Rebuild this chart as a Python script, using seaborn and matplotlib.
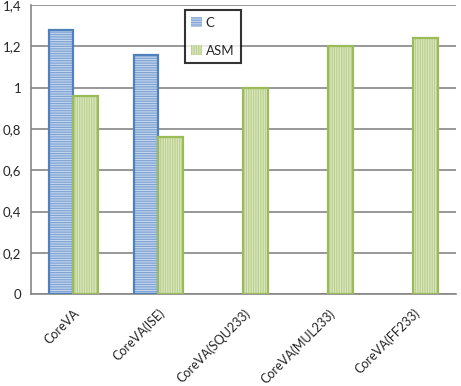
import matplotlib
matplotlib.use("Agg")
import matplotlib.pyplot as plt
from matplotlib.patches import Rectangle, Patch
import seaborn as sns
import pandas as pd
import numpy as np

categories = ["CoreVA", "CoreVA(ISE)", "CoreVA(SQU233)", "CoreVA(MUL233)", "CoreVA(FF233)"]
c_values = [1.28, 1.16, np.nan, np.nan, np.nan]
asm_values = [0.96, 0.76, 1.00, 1.20, 1.24]
series = ["C", "ASM"]
y_ticks = [0, 0.2, 0.4, 0.6, 0.8, 1.0, 1.2, 1.4]
y_tick_labels = ["0", "0,2", "0,4", "0,6", "0,8", "1", "1,2", "1,4"]

df = pd.DataFrame({
    "cat": categories * 2,
    "series": ["C"] * len(categories) + ["ASM"] * len(categories),
    "value": c_values + asm_values,
})

sns.set_style("white")
plt.rcParams["font.family"] = ["Lato", "DejaVu Sans"]
plt.rcParams["hatch.linewidth"] = 0.9

fill = {"C": "#c5d7ee", "ASM": "#dde8c6"}
stripe = {"C": "#7fa3d3", "ASM": "#b9d08a"}
edge = {"C": "#4f81bd", "ASM": "#9bbb59"}
hatch = {"C": "-------", "ASM": "|||||||"}

fig = plt.figure(figsize=(4.61, 3.86), dpi=100)
ax = fig.add_axes([0.067, 0.238, 0.922, 0.749])

sns.barplot(data=df, x="cat", y="value", hue="series", hue_order=series,
            order=categories, palette=fill, width=0.58, ax=ax, legend=False,
            zorder=3)

for i, s in enumerate(series):
    cont = ax.containers[i]
    for p in cont.patches:
        if np.isnan(p.get_height()) or p.get_height() == 0:
            continue
        p.set_facecolor(fill[s])
        p.set_edgecolor(stripe[s])
        p.set_linewidth(0)
        p.set_hatch(hatch[s])
        ax.add_patch(Rectangle(p.get_xy(), p.get_width(), p.get_height(),
                               fill=False, edgecolor=edge[s], linewidth=1.6,
                               zorder=4))

ax.set_ylim(0, 1.4)
ax.set_xlim(-0.5, len(categories) - 0.5)
ax.set_yticks(y_ticks)
ax.set_yticklabels(y_tick_labels, fontsize=9.5)
ax.set_xticks(range(len(categories)))
ax.set_xticklabels(categories, rotation=45, ha="right", rotation_mode="anchor",
                   fontsize=9)
ax.set_xticks(np.arange(-0.5, len(categories), 1.0), minor=True)
ax.tick_params(axis="x", which="major", length=0, pad=9)
ax.tick_params(axis="x", which="minor", length=5, width=1.2, color="#868686",
               direction="out")
ax.tick_params(axis="y", which="major", length=3, width=1.2, color="#868686",
               direction="out", pad=4)
ax.set_xlabel("")
ax.set_ylabel("")
ax.yaxis.grid(True, color="#868686", linewidth=1.2, zorder=0)
ax.set_axisbelow(True)
for side in ["top", "right"]:
    ax.spines[side].set_visible(False)
for side in ["left", "bottom"]:
    ax.spines[side].set_color("#868686")
    ax.spines[side].set_linewidth(1.2)

handles = [Patch(facecolor=fill[s], edgecolor=stripe[s], hatch=hatch[s],
                 linewidth=0) for s in series]
leg = ax.legend(handles, series, loc="upper left", bbox_to_anchor=(0.362, 0.982),
                fontsize=9.5, frameon=True, fancybox=False, edgecolor="black",
                handlelength=0.8, handleheight=0.8, handletextpad=0.3,
                labelspacing=1.2, borderpad=0.5, borderaxespad=0)
leg.get_frame().set_linewidth(1.5)
leg.set_zorder(10)

fig.savefig("out.png", dpi=100)
